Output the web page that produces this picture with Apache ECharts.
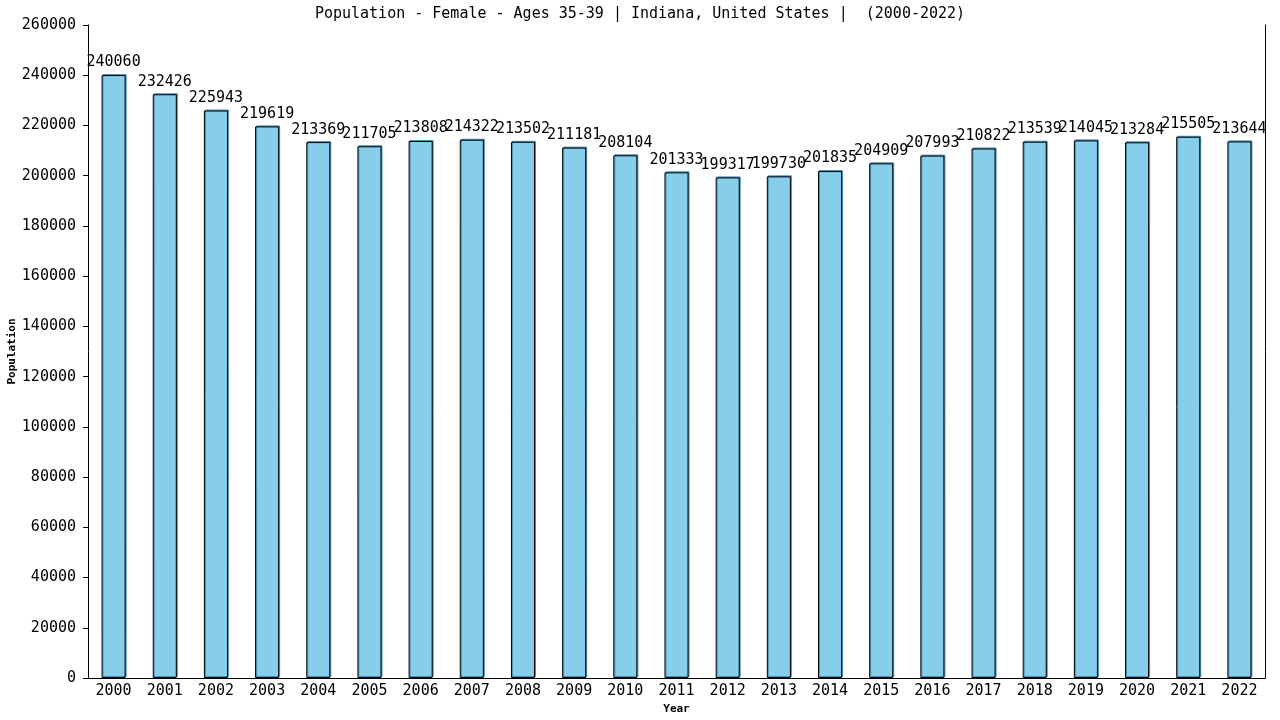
<!DOCTYPE html>
<html>
<head>
<meta charset="utf-8">
<script src="https://cdn.jsdelivr.net/npm/echarts@6/dist/echarts.min.js"></script>
<style>
html,body{margin:0;padding:0;background:#fff;}
#chart{width:1280px;height:720px;}
</style>
</head>
<body>
<div id="chart"></div>
<script>
const years = ['2000','2001','2002','2003','2004','2005','2006','2007','2008','2009','2010','2011','2012','2013','2014','2015','2016','2017','2018','2019','2020','2021','2022'];
const population = [240060,232426,225943,219619,213369,211705,213808,214322,213502,211181,208104,201333,199317,199730,201835,204909,207993,210822,213539,214045,213284,215505,213644];
const yTicks = {min:0, max:260000, interval:20000};
const titleText = 'Population - Female - Ages 35-39 | Indiana, United States |  (2000-2022)';

const FONT = '"DejaVu Sans Mono", monospace';
const chart = echarts.init(document.getElementById('chart'));
chart.setOption({
  animation: false,
  backgroundColor: '#fff',
  title: {
    text: titleText,
    left: 'center',
    top: 2,
    textStyle: {fontFamily: FONT, fontSize: 15, fontWeight: 'normal', color: '#000'}
  },
  grid: {left: 88, right: 15, top: 25, bottom: 42, containLabel: false, outerBoundsMode: 'none'},
  xAxis: {
    type: 'category',
    data: years,
    name: 'Year',
    nameLocation: 'middle',
    nameGap: 26,
    nameMoveOverlap: false,
    nameTextStyle: {fontFamily: FONT, fontSize: 11, fontWeight: 'bold', color: '#000'},
    axisLine: {show: true, lineStyle: {color: '#000', width: 1}},
    axisTick: {show: false},
    axisLabel: {fontFamily: FONT, fontSize: 15, color: '#000', margin: 6, interval: 0}
  },
  yAxis: [{
    type: 'value',
    min: yTicks.min, max: yTicks.max, interval: yTicks.interval,
    name: 'Population',
    nameLocation: 'middle',
    nameGap: 70,
    nameMoveOverlap: false,
    nameTextStyle: {fontFamily: FONT, fontSize: 11, fontWeight: 'bold', color: '#000'},
    axisLine: {show: true, lineStyle: {color: '#000', width: 1}},
    axisTick: {show: true, length: 5, lineStyle: {color: '#000'}},
    axisLabel: {fontFamily: FONT, fontSize: 15, color: '#000', margin: 12, formatter: v => String(v)},
    splitLine: {show: false}
  },{
    type: 'value',
    position: 'right',
    min: yTicks.min, max: yTicks.max, interval: yTicks.interval,
    axisLine: {show: true, lineStyle: {color: '#000', width: 1}},
    axisTick: {show: false},
    axisLabel: {show: false},
    splitLine: {show: false}
  }],
  series: [{
    type: 'bar',
    data: population,
    barWidth: '47%',
    itemStyle: {
      color: '#87CEEB',
      borderColor: '#000',
      borderWidth: 1,
      shadowColor: '#4a90b8',
      shadowOffsetX: 1,
      shadowOffsetY: -1,
      shadowBlur: 0
    },
    label: {
      show: true,
      position: 'top',
      distance: 5,
      fontFamily: FONT,
      fontSize: 15,
      color: '#000',
      formatter: p => String(p.value)
    }
  }]
});
</script>
</body>
</html>
